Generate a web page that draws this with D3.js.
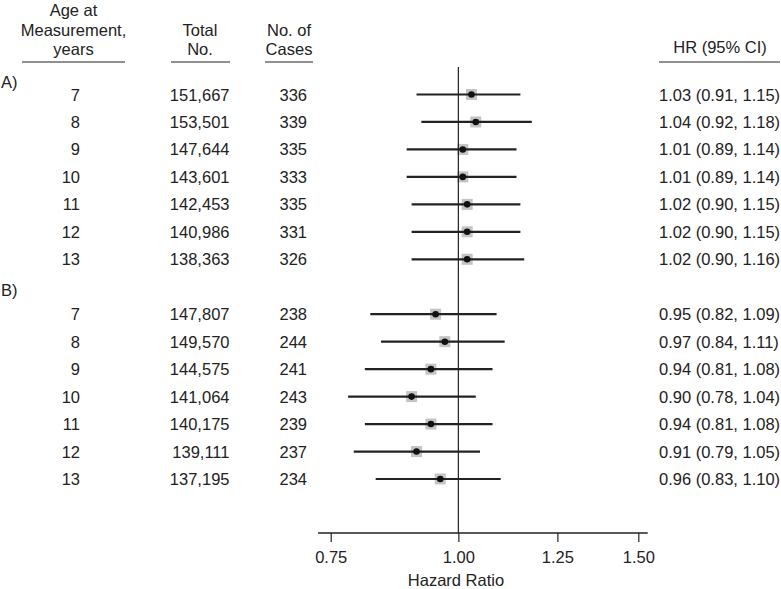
<!DOCTYPE html>
<html>
<head>
<meta charset="utf-8">
<script src="https://cdn.jsdelivr.net/npm/d3@7"></script>
<style>
  html, body { margin: 0; padding: 0; background: #fff; }
  svg { display: block; }
  text { font-family: "Liberation Sans", Arial, Helvetica, sans-serif; fill: #222; }
</style>
</head>
<body>
<svg id="chart" width="781" height="589"></svg>
<script>
// ---- data ----
const groups = ["A)", "B)"];
const ages = [7, 8, 9, 10, 11, 12, 13];
const totalA = ["151,667", "153,501", "147,644", "143,601", "142,453", "140,986", "138,363"];
const casesA = [336, 339, 335, 333, 335, 331, 326];
const hrA = [1.03, 1.04, 1.01, 1.01, 1.02, 1.02, 1.02];
const lowA = [0.91, 0.92, 0.89, 0.89, 0.90, 0.90, 0.90];
const highA = [1.15, 1.18, 1.14, 1.14, 1.15, 1.15, 1.16];
const totalB = ["147,807", "149,570", "144,575", "141,064", "140,175", "139,111", "137,195"];
const casesB = [238, 244, 241, 243, 239, 237, 234];
const hrB = [0.95, 0.97, 0.94, 0.90, 0.94, 0.91, 0.96];
const lowB = [0.82, 0.84, 0.81, 0.78, 0.81, 0.79, 0.83];
const highB = [1.09, 1.11, 1.08, 1.04, 1.08, 1.05, 1.10];
const xTicks = [0.75, 1.00, 1.25, 1.50];
const headers = {
  age: ["Age at", "Measurement,", "years"],
  total: ["Total", "No."],
  cases: ["No. of", "Cases"],
  hr: ["HR (95% CI)"]
};

// build rows
const rows = [];
ages.forEach((a, i) => rows.push({slot: i, age: a, total: totalA[i], cases: casesA[i], hr: hrA[i], lo: lowA[i], hi: highA[i]}));
ages.forEach((a, i) => rows.push({slot: i + 8, age: a, total: totalB[i], cases: casesB[i], hr: hrB[i], lo: lowB[i], hi: highB[i]}));

const svg = d3.select("#chart");
const fs = 16.5;
const ink = "#222";

const x = d3.scaleLog().domain([0.75, 1.5]).range([330.7, 638.3]);
const y = d3.scaleLinear().domain([0, 14]).range([94.5, 479]);
const axisY = 533;

// headers
function header(lines, cx, lastY) {
  lines.forEach((t, i) => {
    svg.append("text").attr("x", cx).attr("y", lastY - (lines.length - 1 - i) * 19.5)
      .attr("text-anchor", "middle").attr("dominant-baseline", "central")
      .style("font-size", fs + "px").text(t);
  });
}
header(headers.age, 73.5, 49);
header(headers.total, 200, 49);
header(headers.cases, 289, 49);
header(headers.hr, 720, 47);

const ul = [[22, 125], [171, 230], [265, 313], [659, 780]];
ul.forEach(([a, b]) => svg.append("line").attr("x1", a).attr("x2", b).attr("y1", 62).attr("y2", 62)
  .attr("stroke", ink).attr("stroke-width", 1.2));

// group labels
svg.append("text").attr("x", 1).attr("y", 82).attr("dominant-baseline", "central").style("font-size", fs + "px").text(groups[0]);
svg.append("text").attr("x", 1).attr("y", 290).attr("dominant-baseline", "central").style("font-size", fs + "px").text(groups[1]);

// table columns
const g = svg.append("g");
const rg = g.selectAll("g.row").data(rows).join("g").attr("class", "row")
  .attr("transform", d => `translate(0,${y(d.slot)})`);
rg.append("text").attr("x", 80).attr("text-anchor", "end").attr("dominant-baseline", "central")
  .style("font-size", fs + "px").text(d => d.age);
rg.append("text").attr("x", 229.5).attr("text-anchor", "end").attr("dominant-baseline", "central")
  .style("font-size", fs + "px").text(d => d.total);
rg.append("text").attr("x", 307).attr("text-anchor", "end").attr("dominant-baseline", "central")
  .style("font-size", fs + "px").text(d => d.cases);
const f2 = d3.format(".2f");
rg.append("text").attr("x", 659).attr("text-anchor", "start").attr("dominant-baseline", "central")
  .style("font-size", fs + "px").text(d => `${f2(d.hr)} (${f2(d.lo)}, ${f2(d.hi)})`);

// reference line
svg.append("line").attr("x1", x(1)).attr("x2", x(1)).attr("y1", 67).attr("y2", axisY)
  .attr("stroke", ink).attr("stroke-width", 1.2);

// CI lines, squares, dots
rg.append("rect").attr("x", d => x(d.hr) - 5.5).attr("y", -5.5).attr("width", 11).attr("height", 11)
  .attr("fill", "#c4c4c4");
rg.append("line").attr("x1", d => x(d.lo)).attr("x2", d => x(d.hi)).attr("y1", 0).attr("y2", 0)
  .attr("stroke", ink).attr("stroke-width", 2.2);
rg.append("circle").attr("cx", d => x(d.hr)).attr("cy", 0).attr("r", 3.3).attr("fill", "#111");

// axis
const axis = d3.axisBottom(x).tickValues(xTicks).tickFormat(d3.format(".2f")).tickSize(9).tickSizeOuter(0);
const ax = svg.append("g").attr("transform", `translate(0,${axisY})`).call(axis);
ax.select(".domain").remove();
ax.selectAll(".tick line").attr("stroke", ink).attr("stroke-width", 1.2);
ax.selectAll(".tick text").attr("y", 18).attr("dy", "0.71em").style("font-size", fs + "px")
  .style("font-family", "'Liberation Sans', Arial, sans-serif").attr("fill", ink);
ax.append("line").attr("x1", x.range()[0] - 12.7).attr("x2", x.range()[1] + 9.4).attr("y1", 0).attr("y2", 0)
  .attr("stroke", ink).attr("stroke-width", 1.4);

svg.append("text").attr("x", 456).attr("y", 580).attr("text-anchor", "middle").attr("dominant-baseline", "central")
  .style("font-size", fs + "px").text("Hazard Ratio");
</script>
</body>
</html>
